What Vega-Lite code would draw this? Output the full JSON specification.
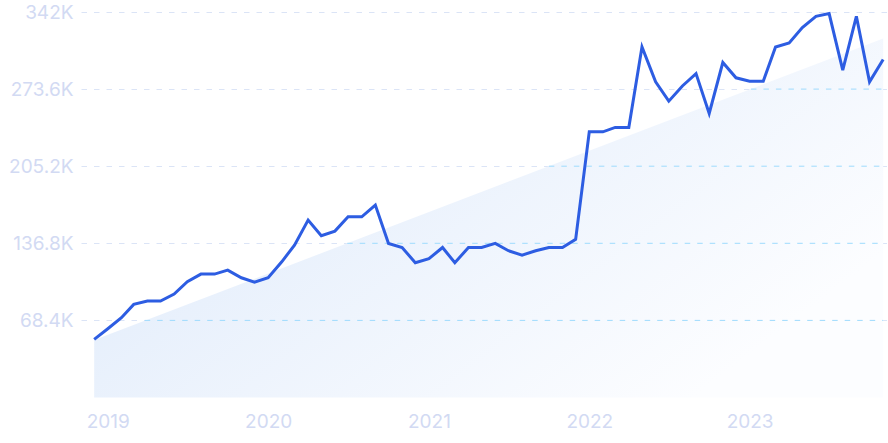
{
  "$schema": "https://vega.github.io/schema/vega-lite/v6.json",
  "autosize": "none",
  "width": 807,
  "height": 385.5,
  "padding": {"left": 81, "top": 12, "right": 0, "bottom": 45.5},
  "background": "#ffffff",
  "config": {
    "view": {"stroke": null},
    "axis": {"labelFont": "Inter", "labelFontSize": 19, "labelColor": "#d2daf3", "domain": false, "ticks": false, "tickSize": 0, "title": null}
  },
  "datasets": {
    "series": [
      {"date": "2018-12-01", "value": 51600},
      {"date": "2019-01-01", "value": 61000},
      {"date": "2019-02-01", "value": 70800},
      {"date": "2019-03-01", "value": 82600},
      {"date": "2019-04-01", "value": 85600},
      {"date": "2019-05-01", "value": 85600},
      {"date": "2019-06-01", "value": 91800},
      {"date": "2019-07-01", "value": 102700},
      {"date": "2019-08-01", "value": 109500},
      {"date": "2019-09-01", "value": 109500},
      {"date": "2019-10-01", "value": 113000},
      {"date": "2019-11-01", "value": 106200},
      {"date": "2019-12-01", "value": 102400},
      {"date": "2020-01-01", "value": 106200},
      {"date": "2020-02-01", "value": 120400},
      {"date": "2020-03-01", "value": 135200},
      {"date": "2020-04-01", "value": 157400},
      {"date": "2020-05-01", "value": 143500},
      {"date": "2020-06-01", "value": 147600},
      {"date": "2020-07-01", "value": 160300},
      {"date": "2020-08-01", "value": 160300},
      {"date": "2020-09-01", "value": 170700},
      {"date": "2020-10-01", "value": 136700},
      {"date": "2020-11-01", "value": 133100},
      {"date": "2020-12-01", "value": 119500},
      {"date": "2021-01-01", "value": 123100},
      {"date": "2021-02-01", "value": 133100},
      {"date": "2021-03-01", "value": 119500},
      {"date": "2021-04-01", "value": 133100},
      {"date": "2021-05-01", "value": 133100},
      {"date": "2021-06-01", "value": 136700},
      {"date": "2021-07-01", "value": 130200},
      {"date": "2021-08-01", "value": 126300},
      {"date": "2021-09-01", "value": 130200},
      {"date": "2021-10-01", "value": 133100},
      {"date": "2021-11-01", "value": 133100},
      {"date": "2021-12-01", "value": 140300},
      {"date": "2022-01-01", "value": 235700},
      {"date": "2022-02-01", "value": 235700},
      {"date": "2022-03-01", "value": 239600},
      {"date": "2022-04-01", "value": 239600},
      {"date": "2022-05-01", "value": 311000},
      {"date": "2022-06-01", "value": 280000},
      {"date": "2022-07-01", "value": 262900},
      {"date": "2022-08-01", "value": 276400},
      {"date": "2022-09-01", "value": 287400},
      {"date": "2022-10-01", "value": 252000},
      {"date": "2022-11-01", "value": 297200},
      {"date": "2022-12-01", "value": 283600},
      {"date": "2023-01-01", "value": 280600},
      {"date": "2023-02-01", "value": 280600},
      {"date": "2023-03-01", "value": 311000},
      {"date": "2023-04-01", "value": 314600},
      {"date": "2023-05-01", "value": 328200},
      {"date": "2023-06-01", "value": 338200},
      {"date": "2023-07-01", "value": 340600},
      {"date": "2023-08-01", "value": 290400},
      {"date": "2023-09-01", "value": 338200},
      {"date": "2023-10-01", "value": 280000},
      {"date": "2023-11-01", "value": 299800}
    ],
    "trend": [
      {"date": "2018-12-01", "value": 51000},
      {"date": "2023-11-01", "value": 318500}
    ],
    "gridInArea": [
      {"date": "2019-03-26", "end": "2023-11-01", "value": 68400},
      {"date": "2020-06-29", "end": "2023-11-01", "value": 136800},
      {"date": "2021-10-01", "end": "2023-11-01", "value": 205200},
      {"date": "2023-01-04", "end": "2023-11-01", "value": 273600}
    ]
  },
  "encoding": {
    "x": {
      "field": "date", "type": "temporal",
      "scale": {"type": "utc", "domain": [{"year": 2018, "month": 11, "date": 1, "utc": true}, {"year": 2023, "month": 11, "date": 12, "utc": true}]},
      "axis": {
        "values": [
          {"year": 2019, "month": 1, "date": 1, "utc": true},
          {"year": 2020, "month": 1, "date": 1, "utc": true},
          {"year": 2021, "month": 1, "date": 1, "utc": true},
          {"year": 2022, "month": 1, "date": 1, "utc": true},
          {"year": 2023, "month": 1, "date": 1, "utc": true}
        ],
        "format": "%Y", "grid": false, "labelPadding": 15, "labelFlush": false
      }
    },
    "y": {
      "field": "value", "type": "quantitative",
      "scale": {"domain": [0, 342000], "nice": false},
      "axis": {
        "values": [68400, 136800, 205200, 273600, 342000],
        "labelExpr": "datum.value / 1000 + 'K'",
        "grid": true, "gridColor": "#dbe4f6", "gridDash": [5.5, 7], "gridWidth": 1,
        "labelPadding": 8
      }
    }
  },
  "layer": [
    {
      "data": {"name": "trend"},
      "mark": {
        "type": "area",
        "fill": {
          "gradient": "linear", "x1": 0, "y1": 0, "x2": 1, "y2": 0.6,
          "stops": [{"offset": 0, "color": "#dbe8fa"}, {"offset": 1, "color": "#fcfdff"}]
        }
      }
    },
    {
      "data": {"name": "gridInArea"},
      "mark": {"type": "rule", "color": "#9edbfd", "strokeWidth": 1, "strokeDash": [5.5, 7]},
      "encoding": {"x2": {"field": "end"}}
    },
    {
      "data": {"name": "series"},
      "mark": {"type": "line", "color": "#2d5de2", "strokeWidth": 3}
    }
  ]
}
